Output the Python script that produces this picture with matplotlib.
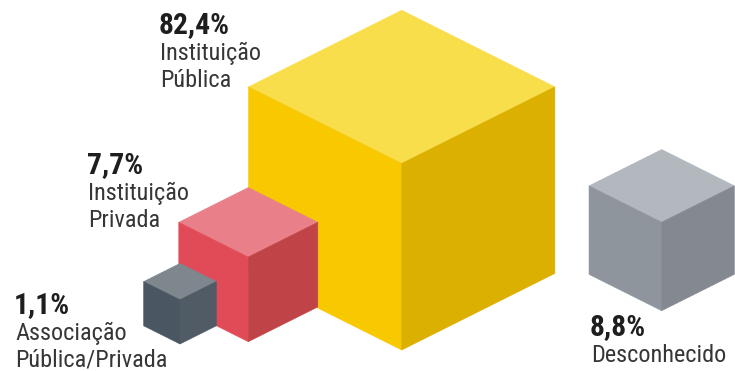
import numpy as np
import matplotlib
matplotlib.use("Agg")
import matplotlib.pyplot as plt
from matplotlib.patches import Polygon
from matplotlib import font_manager

names = {f.name for f in font_manager.fontManager.ttflist}
if 'Roboto Condensed' in names:
    family, fsize = 'Roboto Condensed', 17.5
else:
    family, fsize = 'Roboto', 15.5
plt.rcParams['font.family'] = [family, 'DejaVu Sans']

# shares by entity type (%)
categories = ['Instituição\nPública', 'Instituição\nPrivada', 'Associação\nPública/Privada', 'Desconhecido']
values = [82.4, 7.7, 1.1, 8.8]
pct_labels = ['82,4%', '7,7%', '1,1%', '8,8%']

# face colours: top, left, right
faces = [
    ('#F9DE4C', '#F8C800', '#DBB000'),
    ('#E97F88', '#E14B57', '#C04447'),
    ('#7E878E', '#4A5662', '#505B65'),
    ('#B3B7BE', '#8F959D', '#838891'),
]

# bottom vertex of each cube (pixels) and label anchors
anchors = [(401.7, 350), (248.3, 341.7), (180, 344), (661.7, 310.7)]
label_pos = [(160, 33), (88, 173), (15, 313), (591, 335)]

W, H = 735, 371
fig = plt.figure(figsize=(W / 100, H / 100), dpi=100)
ax = fig.add_axes([0, 0, 1, 1])
ax.set_xlim(0, W)
ax.set_ylim(H, 0)
ax.axis('off')

K = 35.2  # half-width per cube-root unit, so volume tracks the share


def cube(ax, bx, by, value, cols, z):
    w = K * np.cbrt(value)
    r = 0.5 * w
    h = 1.218 * w
    cx, cy = bx, by - h  # front top vertex
    top = [(cx, cy), (cx - w, cy - r), (cx, cy - 2 * r), (cx + w, cy - r)]
    left = [(cx, cy), (cx - w, cy - r), (cx - w, cy - r + h), (bx, by)]
    right = [(cx, cy), (cx + w, cy - r), (cx + w, cy - r + h), (bx, by)]
    for pts, c in zip((top, left, right), cols):
        ax.add_patch(Polygon(pts, closed=True, facecolor=c, edgecolor=c,
                             linewidth=0.4, zorder=z))


# back to front
order = [3, 0, 1, 2]
for z, i in enumerate(order):
    cube(ax, anchors[i][0], anchors[i][1], values[i], faces[i], z + 1)

for i in range(len(values)):
    x, y = label_pos[i]
    ax.text(x - 1, y, pct_labels[i], fontsize=fsize * 1.22, fontweight='bold',
            color='#1E1E1E', ha='left', va='baseline', zorder=10)
    for j, line in enumerate(categories[i].split('\n')):
        ax.text(x, y + 27 * (j + 1), line, fontsize=fsize, color='#363636',
                ha='left', va='baseline', zorder=10)

fig.savefig('out.png', dpi=100)
